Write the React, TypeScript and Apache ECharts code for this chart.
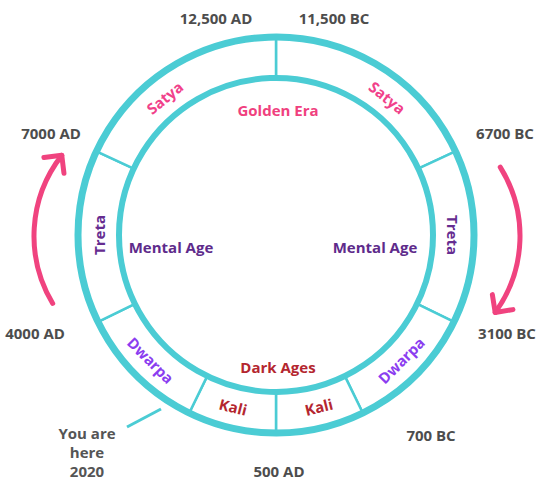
import React, { useEffect, useRef } from 'react';
import * as echarts from 'echarts';

// ---- data ----
const segmentNames = ['Satya', 'Treta', 'Dwarpa', 'Kali', 'Kali', 'Dwarpa', 'Treta', 'Satya'];
const segmentSpans = [65, 51, 38, 26, 26, 38, 51, 65]; // degrees of the cycle, clockwise from top
const innerLabels = ['Golden Era', 'Mental Age', 'Mental Age', 'Dark Ages'];
const dateLabels = ['12,500 AD', '11,500 BC', '6700 BC', '3100 BC', '700 BC', '500 AD', '4000 AD', '7000 AD'];
const hereLines = ['You are', 'here', '2020'];

// ---- layout / style ----
const W = 538;
const H = 483;
const CX = 276;
const CY = 235;
const R_IN = 157;
const R_OUT = 198;
const R_LABEL = 177;
const TEAL = '#4bccd4';
const PINK = '#f0437f';
const FONT = '"Open Sans", "Noto Sans", sans-serif';
const FS = 15;
const segmentLabelAngles = [39, 90, 135, 166, 194, 225, 270, 321];
const segmentColors: Record<string, string> = {
  Satya: '#f1418a',
  Treta: '#652c90',
  Dwarpa: '#8b3df0',
  Kali: '#b4262f',
};
const innerLabelPos = [
  [278, 110],
  [171, 247],
  [375, 247],
  [278, 367],
];
const innerLabelColors = ['#f0407e', '#5e2b8b', '#5e2b8b', '#b4262f'];
const datePos = [
  [216, 18],
  [334, 18],
  [505, 133],
  [507, 333],
  [431, 435],
  [279, 471],
  [35, 333],
  [51, 133],
];
const herePos = [87, 433];
const hereLineGap = 19;

function arrowParts(cx: number, cy: number, r: number, a0: number, a1: number) {
  const s = (a0 * Math.PI) / 180;
  const e = (a1 * Math.PI) / 180;
  const tip = [cx + r * Math.cos(e), cy + r * Math.sin(e)];
  const bx = Math.sin(e);
  const by = -Math.cos(e);
  const c = Math.SQRT1_2;
  const L = 18;
  const arm1 = [tip[0] + L * (bx * c - by * c), tip[1] + L * (bx * c + by * c)];
  const arm2 = [tip[0] + L * (bx * c + by * c), tip[1] + L * (-bx * c + by * c)];
  return [
    {
      type: 'arc',
      shape: { cx, cy, r, startAngle: s, endAngle: e, clockwise: true },
      style: { fill: 'none', stroke: PINK, lineWidth: 5, lineCap: 'round' },
      z: 30,
    },
    {
      type: 'polyline',
      shape: { points: [arm1, tip, arm2] },
      style: { fill: 'none', stroke: PINK, lineWidth: 5, lineCap: 'round', lineJoin: 'round' },
      z: 30,
    },
  ];
}

export default function App() {
  const ref = useRef<HTMLDivElement>(null);
  useEffect(() => {
    document.body.style.margin = '0';
    if (!ref.current) return;
    const chart = echarts.init(ref.current, undefined, { renderer: 'svg' });

    const textStyle = (text: string, fill: string) => ({
      text,
      fill,
      fontSize: FS,
      fontWeight: 'bold',
      fontFamily: FONT,
      align: 'center',
      verticalAlign: 'middle',
    });

    const ringLabels = segmentNames.map((name, i) => {
      const a = segmentLabelAngles[i];
      const rad = (a * Math.PI) / 180;
      const cw = a <= 100 || a >= 260 ? (a > 180 ? a - 360 : a) : a - 180;
      return {
        type: 'text',
        x: CX + R_LABEL * Math.sin(rad),
        y: CY - R_LABEL * Math.cos(rad),
        rotation: (-cw * Math.PI) / 180,
        z: 40,
        style: textStyle(name, segmentColors[name]),
      };
    });

    const texts = (labels: string[], pos: number[][], colors: string[] | string) =>
      labels.map((t, i) => ({
        type: 'text',
        x: pos[i][0],
        y: pos[i][1],
        z: 40,
        style: textStyle(t, Array.isArray(colors) ? colors[i] : colors),
      }));

    const hereTexts = hereLines.map((t, i) => ({
      type: 'text',
      x: herePos[0],
      y: herePos[1] + i * hereLineGap,
      z: 40,
      style: textStyle(t, '#555555'),
    }));

    chart.setOption({
      animation: false,
      backgroundColor: '#ffffff',
      series: [
        {
          type: 'pie',
          center: [CX, CY],
          radius: [R_IN, R_OUT],
          startAngle: 90,
          clockwise: true,
          silent: true,
          label: { show: false },
          labelLine: { show: false },
          emphasis: { disabled: true },
          itemStyle: { color: '#ffffff', borderColor: TEAL, borderWidth: 2.5 },
          data: segmentNames.map((n, i) => ({ name: n, value: segmentSpans[i] })),
        },
      ],
      graphic: [
        {
          type: 'circle',
          shape: { cx: CX, cy: CY, r: R_OUT },
          style: { fill: 'none', stroke: TEAL, lineWidth: 7 },
          z: 20,
        },
        {
          type: 'circle',
          shape: { cx: CX, cy: CY, r: R_IN },
          style: { fill: 'none', stroke: TEAL, lineWidth: 6 },
          z: 20,
        },
        {
          type: 'line',
          shape: { x1: 161, y1: 409, x2: 127, y2: 427 },
          style: { stroke: TEAL, lineWidth: 3 },
          z: 20,
        },
        ...arrowParts(165, 236, 131, 149, 218),
        ...arrowParts(390, 236, 130, -32, 36),
        ...ringLabels,
        ...texts(innerLabels, innerLabelPos, innerLabelColors),
        ...texts(dateLabels, datePos, '#4d4d4d'),
        ...hereTexts,
      ],
    });
    return () => chart.dispose();
  }, []);
  return <div ref={ref} style={{ width: W, height: H }} />;
}
